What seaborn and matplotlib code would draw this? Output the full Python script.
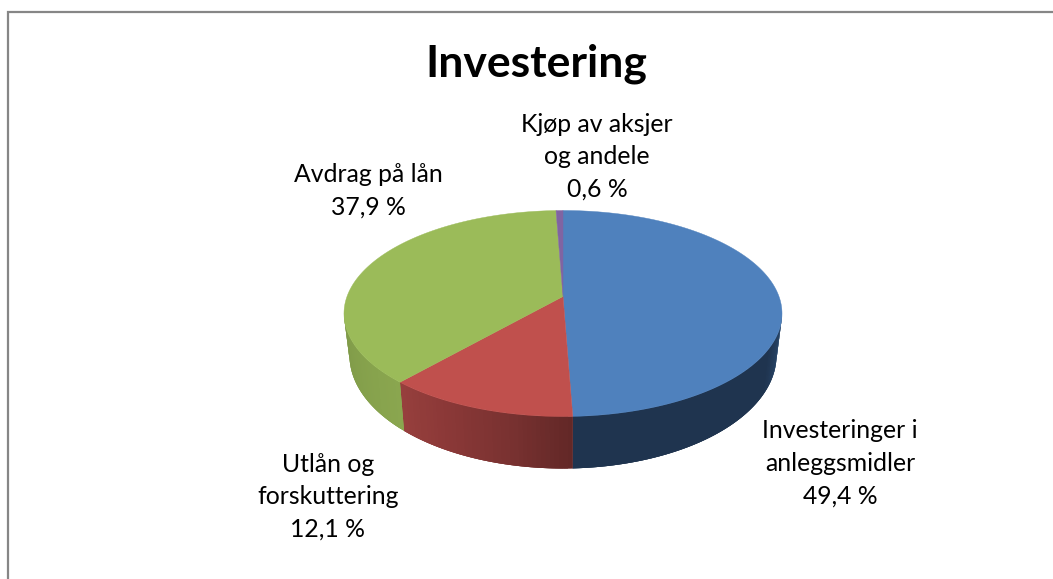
import numpy as np
import seaborn as sns
import matplotlib.pyplot as plt

categories = ["Investeringer i\nanleggsmidler", "Utlån og\nforskuttering", "Avdrag på lån", "Kjøp av aksjer\nog andele"]
shares = [49.4, 12.1, 37.9, 0.6]
top_colors = ["#4f81bd", "#c0504d", "#9bbb59", "#8064a2"]
wall_colors = [
    ["#2c4d74", "#1f344f", "#1f344f", "#1f344f", "#1f344f"],
    ["#632827", "#7a3231", "#8a3837", "#973f3d"],
    ["#8aa64f", "#7f9a48"],
    ["#5f4b7a", "#5f4b7a"],
]
label_pos = [(840, 463.5), (328, 496.5), (368, 191), (597, 156.5)]

# pie geometry in pixels
CX, CY = 563, 313.5
SX, SY = 216, 103
APEX = 17
K = APEX / SY
VIS_FROM, VIS_TO = -9.5, -170.5


def project(theta):
    # circle in the pie plane -> tilted view, near side gets bigger
    u = np.cos(np.radians(theta))
    v = np.sin(np.radians(theta))
    w = 1 + K * v
    return SX * u / w, (SY * v + APEX) / w


def top_rim(theta):
    x, y = project(theta)
    return CX + x, CY - y


def bottom_rim(theta):
    x, y = project(theta)
    return CX + 0.975 * x, CY - 1.1 * y + 41.7


sns.set_theme(style="white")
plt.rcParams["font.family"] = ["Lato", "DejaVu Sans"]

fig = plt.figure(figsize=(10.53, 5.79), dpi=100)
ax = fig.add_axes([0, 0, 1, 1])
ax.set_xlim(0, 1053)
ax.set_ylim(579, 0)
ax.axis("off")

# chart frame, runs off the right and bottom of the crop
ax.plot([8, 8, 1053], [579, 12, 12], color="#868686", lw=1.6, solid_joinstyle="miter")

ends = 90 - np.cumsum(shares) * 3.6
starts = np.r_[90, ends[:-1]]

# side wall first, top face hides whatever falls behind it
for start, end, colors in zip(starts, ends, wall_colors):
    a = min(start, VIS_FROM)
    b = max(end, VIS_TO)
    if a <= b:
        continue
    n = max(int(a - b), 1)
    pal = sns.blend_palette(colors, n)
    edges = np.linspace(a, b, n + 1)

    # solid base so thin strips near the edge do not pick up the white page
    t = np.linspace(a, b, 100)
    xt, yt = top_rim(t)
    xb, yb = bottom_rim(t[::-1])
    ax.fill(np.r_[xt, xb], np.r_[yt, yb], facecolor=pal[n // 2], edgecolor="none", lw=0)

    for i in range(n):
        # strips overlap the next one so no seams show
        t = np.linspace(edges[i], edges[min(i + 2, n)], 6)
        xt, yt = top_rim(t)
        xb, yb = bottom_rim(t[::-1])
        ax.fill(np.r_[xt, xb], np.r_[yt, yb], facecolor=pal[i], edgecolor="none", lw=0)

for start, end, color in zip(starts, ends, top_colors):
    t = np.linspace(start, end, 200)
    x, y = top_rim(t)
    ax.fill(np.r_[CX, x], np.r_[CY - APEX, y], color=color, lw=0.3)

ax.text(536, 64, "Investering", ha="center", va="center", fontsize=32, fontweight="bold", color="black")

for name, share, (x, y) in zip(categories, shares, label_pos):
    label = name + "\n" + f"{share:.1f} %".replace(".", ",")
    ax.text(x, y, label, ha="center", va="center", fontsize=17.8, color="black", linespacing=1.5)

fig.savefig("out.png", dpi=100)
